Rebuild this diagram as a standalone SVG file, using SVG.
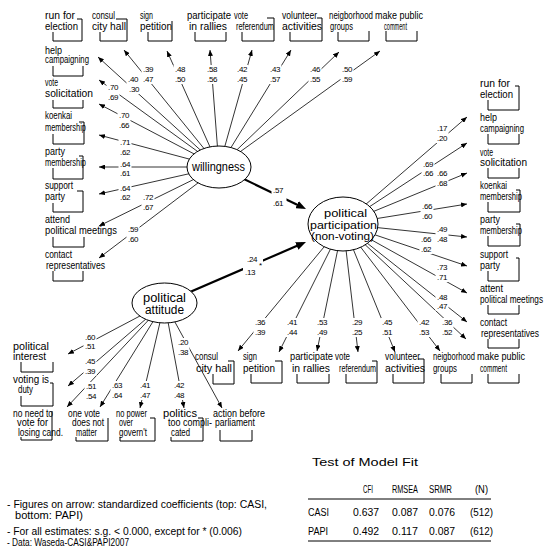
<svg xmlns="http://www.w3.org/2000/svg" width="544" height="549" viewBox="0 0 544 549">
<style>
text{font-family:"Liberation Sans",Arial,sans-serif;font-size:10px;fill:#000}
.c{font-size:8px;letter-spacing:-0.3px}
.lat{font-size:12px}
.lat2{font-size:11px}
.e line{stroke:#000;stroke-width:0.8;marker-end:url(#ah)}
.thick{stroke:#000;stroke-width:2.2;marker-end:url(#ahb)}
.bk{fill:none;stroke:#000;stroke-width:1}
.lb rect{fill:#fff}
ellipse{fill:#fff;stroke:#000;stroke-width:1}
.rule{stroke:#000;stroke-width:1}
</style>
<defs>
<marker id="ah" markerWidth="6" markerHeight="5" refX="6" refY="2.5" orient="auto" markerUnits="userSpaceOnUse"><path d="M0,0L6,2.5L0,5z"/></marker>
<marker id="ahb" markerWidth="10" markerHeight="8" refX="6" refY="4" orient="auto" markerUnits="userSpaceOnUse"><path d="M0,0L10,4L0,8z"/></marker>
</defs>
<rect width="544" height="549" fill="#fff"/>
<g id="connectors">
<g class="e">
<line x1="219" y1="167" x2="124" y2="50"/>
<line x1="219" y1="167" x2="167" y2="51"/>
<line x1="219" y1="167" x2="210" y2="50"/>
<line x1="219" y1="167" x2="252" y2="50"/>
<line x1="219" y1="167" x2="291" y2="50"/>
<line x1="219" y1="167" x2="339" y2="52"/>
<line x1="219" y1="167" x2="380" y2="51"/>
<line x1="219" y1="167" x2="98" y2="57"/>
<line x1="219" y1="167" x2="99" y2="80"/>
<line x1="219" y1="167" x2="99" y2="104"/>
<line x1="219" y1="167" x2="99" y2="135"/>
<line x1="219" y1="167" x2="99" y2="167"/>
<line x1="219" y1="167" x2="99" y2="194"/>
<line x1="219" y1="167" x2="99" y2="226"/>
<line x1="219" y1="167" x2="99" y2="258"/>
<line x1="343" y1="224" x2="467" y2="117"/>
<line x1="343" y1="224" x2="467" y2="143"/>
<line x1="343" y1="224" x2="467" y2="173"/>
<line x1="343" y1="224" x2="467" y2="204"/>
<line x1="343" y1="224" x2="467" y2="237"/>
<line x1="343" y1="224" x2="467" y2="266"/>
<line x1="343" y1="224" x2="467" y2="293"/>
<line x1="343" y1="224" x2="467" y2="322"/>
<line x1="343" y1="224" x2="466" y2="339"/>
<line x1="343" y1="224" x2="238" y2="351"/>
<line x1="343" y1="224" x2="279" y2="352"/>
<line x1="343" y1="224" x2="317" y2="351"/>
<line x1="343" y1="224" x2="358" y2="352"/>
<line x1="343" y1="224" x2="395" y2="352"/>
<line x1="343" y1="224" x2="440" y2="351"/>
<line x1="164.5" y1="303" x2="68" y2="354"/>
<line x1="164.5" y1="303" x2="68" y2="386"/>
<line x1="164.5" y1="303" x2="67" y2="407"/>
<line x1="164.5" y1="303" x2="100" y2="407"/>
<line x1="164.5" y1="303" x2="140" y2="408"/>
<line x1="164.5" y1="303" x2="184" y2="408"/>
<line x1="164.5" y1="303" x2="222" y2="408"/>
</g>
<line class="thick" x1="219" y1="167" x2="302.4" y2="207.3"/>
<line class="thick" x1="164.5" y1="303" x2="302.3" y2="243.6"/>
<g class="lb">
<rect x="141.5" y="65" width="13" height="19"/><text class="c" x="143" y="72">.39</text><text class="c" x="143" y="82">.47</text>
<rect x="173.5" y="65" width="13" height="19"/><text class="c" x="175" y="72">.48</text><text class="c" x="175" y="82">.50</text>
<rect x="205.5" y="65" width="13" height="19"/><text class="c" x="207" y="72">.58</text><text class="c" x="207" y="82">.56</text>
<rect x="235.5" y="65" width="13" height="19"/><text class="c" x="237" y="72">.42</text><text class="c" x="237" y="82">.45</text>
<rect x="268.5" y="65" width="13" height="19"/><text class="c" x="270" y="72">.43</text><text class="c" x="270" y="82">.57</text>
<rect x="308.5" y="65" width="13" height="19"/><text class="c" x="310" y="72">.46</text><text class="c" x="310" y="82">.55</text>
<rect x="340.5" y="65" width="13" height="19"/><text class="c" x="342" y="72">.50</text><text class="c" x="342" y="82">.59</text>
<rect x="126.5" y="75" width="13" height="19"/><text class="c" x="128" y="82">.40</text><text class="c" x="129" y="92">.30</text>
<rect x="106.5" y="83" width="13" height="19"/><text class="c" x="108" y="90">.70</text><text class="c" x="108" y="100">.69</text>
<rect x="117.5" y="111" width="13" height="19"/><text class="c" x="119" y="118">.70</text><text class="c" x="119" y="128">.66</text>
<rect x="118.5" y="138" width="13" height="19"/><text class="c" x="120" y="145">.71</text><text class="c" x="120" y="155">.62</text>
<rect x="118.5" y="160" width="13" height="18"/><text class="c" x="120" y="167">.64</text><text class="c" x="120" y="176">.61</text>
<rect x="118.5" y="184" width="13" height="18"/><text class="c" x="120" y="191">.64</text><text class="c" x="120" y="200">.62</text>
<rect x="141.5" y="193" width="13" height="19"/><text class="c" x="143" y="200">.72</text><text class="c" x="143" y="210">.67</text>
<rect x="126.5" y="225" width="13" height="19"/><text class="c" x="128" y="232">.59</text><text class="c" x="128" y="242">.60</text>
<rect x="435.5" y="124" width="13" height="19"/><text class="c" x="437" y="131">.17</text><text class="c" x="437" y="141">.20</text>
<rect x="421.5" y="160" width="13" height="18"/><text class="c" x="423" y="167">.69</text><text class="c" x="423" y="176">.66</text>
<rect x="435.5" y="169" width="13" height="19"/><text class="c" x="437" y="176">.66</text><text class="c" x="437" y="186">.68</text>
<rect x="420.5" y="202" width="13" height="19"/><text class="c" x="422" y="209">.66</text><text class="c" x="422" y="219">.60</text>
<rect x="435.5" y="225" width="13" height="19"/><text class="c" x="437" y="232">.49</text><text class="c" x="437" y="242">.48</text>
<rect x="419.5" y="235" width="13" height="19"/><text class="c" x="421" y="242">.66</text><text class="c" x="421" y="252">.62</text>
<rect x="435.5" y="263" width="13" height="19"/><text class="c" x="437" y="270">.73</text><text class="c" x="437" y="280">.71</text>
<rect x="435.5" y="293" width="13" height="18"/><text class="c" x="437" y="300">.48</text><text class="c" x="437" y="309">.47</text>
<rect x="440.5" y="318" width="13" height="19"/><text class="c" x="442" y="325">.36</text><text class="c" x="442" y="335">.52</text>
<rect x="253.5" y="318" width="13" height="19"/><text class="c" x="255" y="325">.36</text><text class="c" x="255" y="335">.39</text>
<rect x="285.5" y="318" width="13" height="19"/><text class="c" x="287" y="325">.41</text><text class="c" x="287" y="335">.44</text>
<rect x="315.5" y="318" width="13" height="19"/><text class="c" x="317" y="325">.53</text><text class="c" x="317" y="335">.49</text>
<rect x="350.5" y="318" width="13" height="19"/><text class="c" x="352" y="325">.29</text><text class="c" x="352" y="335">.25</text>
<rect x="380.5" y="318" width="13" height="19"/><text class="c" x="382" y="325">.45</text><text class="c" x="382" y="335">.51</text>
<rect x="417.5" y="318" width="13" height="19"/><text class="c" x="419" y="325">.42</text><text class="c" x="419" y="335">.53</text>
<rect x="83.5" y="333" width="13" height="18"/><text class="c" x="85" y="340">.60</text><text class="c" x="85" y="349">.51</text>
<rect x="83.5" y="357" width="13" height="19"/><text class="c" x="85" y="364">.45</text><text class="c" x="85" y="374">.39</text>
<rect x="84.5" y="382" width="13" height="19"/><text class="c" x="86" y="389">.51</text><text class="c" x="86" y="399">.54</text>
<rect x="110.5" y="381" width="13" height="19"/><text class="c" x="112" y="388">.63</text><text class="c" x="112" y="398">.64</text>
<rect x="138.5" y="381" width="13" height="19"/><text class="c" x="140" y="388">.41</text><text class="c" x="140" y="398">.47</text>
<rect x="172.5" y="381" width="13" height="19"/><text class="c" x="174" y="388">.42</text><text class="c" x="174" y="398">.48</text>
<rect x="176.5" y="338" width="13" height="19"/><text class="c" x="178" y="345">.20</text><text class="c" x="178" y="355">.38</text>
<rect x="271.5" y="185" width="15" height="22"/><text class="c" x="273" y="193">.57</text><text class="c" x="273" y="206">.61</text>
<rect x="243" y="255" width="20" height="22"/><text class="c" x="247" y="262">.24</text><text class="c" x="245" y="275">.13</text><text class="c" x="259" y="268">*</text>
</g>
</g>
<g id="n_top_run"><text x="45" y="19" textLength="30" lengthAdjust="spacingAndGlyphs">run for</text><text x="45" y="30" textLength="33" lengthAdjust="spacingAndGlyphs">election</text><path class="bk" d="M77,19H82V41H53V32"/></g>
<g id="n_top_consul"><text x="92" y="19" textLength="23" lengthAdjust="spacingAndGlyphs">consul</text><text x="92" y="30" textLength="34" lengthAdjust="spacingAndGlyphs">city hall</text><path class="bk" d="M116,19H127V41H100V32"/></g>
<g id="n_top_sign"><text x="140" y="19" textLength="13" lengthAdjust="spacingAndGlyphs">sign</text><text x="140" y="30" textLength="32" lengthAdjust="spacingAndGlyphs">petition</text><path class="bk" d="M172,21V41H148V32"/></g>
<g id="n_top_rallies"><text x="187" y="19" textLength="44" lengthAdjust="spacingAndGlyphs">participate</text><text x="189" y="30" textLength="38" lengthAdjust="spacingAndGlyphs">in rallies</text><path class="bk" d="M226,32V41H195V32"/></g>
<g id="n_top_vote"><text x="234" y="19" textLength="14" lengthAdjust="spacingAndGlyphs">vote</text><text x="236" y="30" textLength="38" lengthAdjust="spacingAndGlyphs">referendum</text><path class="bk" d="M267,18H274V41H242V32"/></g>
<g id="n_top_volunteer"><text x="282" y="19" textLength="35" lengthAdjust="spacingAndGlyphs">volunteer</text><text x="282" y="30" textLength="40" lengthAdjust="spacingAndGlyphs">activities</text><path class="bk" d="M317,18H322V41H290V32"/></g>
<g id="n_top_neigh"><text x="329" y="19" textLength="44" lengthAdjust="spacingAndGlyphs">neigborhood</text><text x="330" y="30" textLength="23" lengthAdjust="spacingAndGlyphs">groups</text><path class="bk" d="M369,31V41H338V32"/></g>
<g id="n_top_comment"><text x="375" y="19" textLength="48" lengthAdjust="spacingAndGlyphs">make public</text><text x="384" y="30" textLength="23" lengthAdjust="spacingAndGlyphs">comment</text><path class="bk" d="M417,31V41H386V31"/></g>
<g id="n_l_help"><text x="45" y="54" textLength="17" lengthAdjust="spacingAndGlyphs">help</text><text x="45" y="63" textLength="44" lengthAdjust="spacingAndGlyphs">campaigning</text><path class="bk" d="M83,66V76H53V66"/></g>
<g id="n_l_vote"><text x="45" y="86" textLength="13" lengthAdjust="spacingAndGlyphs">vote</text><text x="45" y="97" textLength="48" lengthAdjust="spacingAndGlyphs">solicitation</text><path class="bk" d="M83,100V108H53V100"/></g>
<g id="n_l_koenkai"><text x="45" y="119" textLength="27" lengthAdjust="spacingAndGlyphs">koenkai</text><text x="45" y="131" textLength="41" lengthAdjust="spacingAndGlyphs">membership</text><path class="bk" d="M79,122H84V144H53V134"/></g>
<g id="n_l_party"><text x="45" y="155" textLength="20" lengthAdjust="spacingAndGlyphs">party</text><text x="45" y="166" textLength="41" lengthAdjust="spacingAndGlyphs">membership</text><path class="bk" d="M79,156H83V179H53V168"/></g>
<g id="n_l_support"><text x="45" y="189" textLength="28" lengthAdjust="spacingAndGlyphs">support</text><text x="45" y="200" textLength="20" lengthAdjust="spacingAndGlyphs">party</text><path class="bk" d="M77,191H83V212H53V203"/></g>
<g id="n_l_attend"><text x="45" y="223" textLength="25" lengthAdjust="spacingAndGlyphs">attend</text><text x="45" y="234" textLength="72" lengthAdjust="spacingAndGlyphs">political meetings</text><path class="bk" d="M84,237V247H53V237"/></g>
<g id="n_l_contact"><text x="45" y="258" textLength="27" lengthAdjust="spacingAndGlyphs">contact</text><text x="46" y="269" textLength="59" lengthAdjust="spacingAndGlyphs">representatives</text><path class="bk" d="M83,271V281H53V271"/></g>
<g id="n_r_run"><text x="480" y="87" textLength="30" lengthAdjust="spacingAndGlyphs">run for</text><text x="480" y="98" textLength="33" lengthAdjust="spacingAndGlyphs">election</text><path class="bk" d="M515,86H519V110H488V100"/></g>
<g id="n_r_help"><text x="480" y="121" textLength="17" lengthAdjust="spacingAndGlyphs">help</text><text x="480" y="132" textLength="44" lengthAdjust="spacingAndGlyphs">campaigning</text><path class="bk" d="M519,134V144H488V134"/></g>
<g id="n_r_vote"><text x="480" y="156" textLength="13" lengthAdjust="spacingAndGlyphs">vote</text><text x="480" y="166" textLength="47" lengthAdjust="spacingAndGlyphs">solicitation</text><path class="bk" d="M519,168V178H488V168"/></g>
<g id="n_r_koenkai"><text x="480" y="189" textLength="27" lengthAdjust="spacingAndGlyphs">koenkai</text><text x="480" y="200" textLength="42" lengthAdjust="spacingAndGlyphs">membership</text><path class="bk" d="M516,190H520V212H488V202"/></g>
<g id="n_r_party"><text x="480" y="223" textLength="20" lengthAdjust="spacingAndGlyphs">party</text><text x="480" y="234" textLength="42" lengthAdjust="spacingAndGlyphs">membership</text><path class="bk" d="M516,224H520V246H488V236"/></g>
<g id="n_r_support"><text x="480" y="258" textLength="28" lengthAdjust="spacingAndGlyphs">support</text><text x="480" y="269" textLength="20" lengthAdjust="spacingAndGlyphs">party</text><path class="bk" d="M516,258H519V281H488V271"/></g>
<g id="n_r_attent"><text x="480" y="292" textLength="23" lengthAdjust="spacingAndGlyphs">attent</text><text x="480" y="303" font-size="9" textLength="63" lengthAdjust="spacingAndGlyphs">political meetings</text><path class="bk" d="M519,305V314H488V305"/></g>
<g id="n_r_contact"><text x="480" y="326" textLength="27" lengthAdjust="spacingAndGlyphs">contact</text><text x="481" y="337" font-size="9.5" textLength="58" lengthAdjust="spacingAndGlyphs">representatives</text><path class="bk" d="M519,339V348H488V339"/></g>
<g id="n_b_consul"><text x="195" y="360" textLength="23" lengthAdjust="spacingAndGlyphs">consul</text><text x="196" y="372" textLength="36" lengthAdjust="spacingAndGlyphs">city hall</text><path class="bk" d="M228,361H234V384H213V374"/></g>
<g id="n_b_sign"><text x="243" y="360" textLength="14" lengthAdjust="spacingAndGlyphs">sign</text><text x="243" y="372" textLength="32" lengthAdjust="spacingAndGlyphs">petition</text><path class="bk" d="M275,361H282V383H251V374"/></g>
<g id="n_b_rallies"><text x="290" y="360" textLength="43" lengthAdjust="spacingAndGlyphs">participate</text><text x="292" y="372" textLength="38" lengthAdjust="spacingAndGlyphs">in rallies</text><path class="bk" d="M329,374V383H297V374"/></g>
<g id="n_b_vote"><text x="335" y="360" textLength="15" lengthAdjust="spacingAndGlyphs">vote</text><text x="339" y="372" textLength="37" lengthAdjust="spacingAndGlyphs">referendum</text><path class="bk" d="M372,361H377V383H346V374"/></g>
<g id="n_b_volunteer"><text x="385" y="360" textLength="35" lengthAdjust="spacingAndGlyphs">volunteer</text><text x="385" y="372" textLength="40" lengthAdjust="spacingAndGlyphs">activities</text><path class="bk" d="M418,359H424V383H393V374"/></g>
<g id="n_b_neigh"><text x="433" y="360" textLength="42" lengthAdjust="spacingAndGlyphs">neigborhood</text><text x="433" y="372" textLength="24" lengthAdjust="spacingAndGlyphs">groups</text><path class="bk" d="M472,374V383H441V374"/></g>
<g id="n_b_comment"><text x="477" y="360" textLength="48" lengthAdjust="spacingAndGlyphs">make public</text><text x="480" y="372" textLength="27" lengthAdjust="spacingAndGlyphs">comment</text><path class="bk" d="M519,374V383H488V374"/></g>
<g id="n_a_interest"><text x="13" y="350" textLength="36" lengthAdjust="spacingAndGlyphs">political</text><text x="13" y="360" textLength="33" lengthAdjust="spacingAndGlyphs">interest</text><path class="bk" d="M21,362V372H53V362"/></g>
<g id="n_a_duty"><text x="13" y="383" textLength="36" lengthAdjust="spacingAndGlyphs">voting is</text><text x="18" y="393" textLength="15" lengthAdjust="spacingAndGlyphs">duty</text><path class="bk" d="M50,383H53V406H21V396"/></g>
<g id="n_a_noneed"><text x="13" y="417" textLength="40" lengthAdjust="spacingAndGlyphs">no need to</text><text x="17" y="426" textLength="31" lengthAdjust="spacingAndGlyphs">vote for</text><text x="18" y="436" textLength="45" lengthAdjust="spacingAndGlyphs">losing cand.</text><path class="bk" d="M52,411V440H21V437"/></g>
<g id="n_a_onevote"><text x="68" y="417" textLength="32" lengthAdjust="spacingAndGlyphs">one vote</text><text x="72" y="426" textLength="32" lengthAdjust="spacingAndGlyphs">does not</text><text x="76" y="436" textLength="21" lengthAdjust="spacingAndGlyphs">matter</text><path class="bk" d="M108,418V441H76V437"/></g>
<g id="n_a_nopower"><text x="116" y="417" textLength="31" lengthAdjust="spacingAndGlyphs">no power</text><text x="119" y="426" textLength="14" lengthAdjust="spacingAndGlyphs">over</text><text x="119" y="436" textLength="28" lengthAdjust="spacingAndGlyphs">govern't</text><path class="bk" d="M150,418H155V441H120V437"/></g>
<g id="n_a_politics"><text x="163" y="417" textLength="34" lengthAdjust="spacingAndGlyphs">politics</text><text x="168" y="426" textLength="44" lengthAdjust="spacingAndGlyphs">too compli-</text><text x="171" y="436" textLength="19" lengthAdjust="spacingAndGlyphs">cated</text><path class="bk" d="M198,418H203V441H171V437"/></g>
<g id="n_a_action"><text x="213" y="417" textLength="52" lengthAdjust="spacingAndGlyphs">action before</text><text x="215" y="426" textLength="40" lengthAdjust="spacingAndGlyphs">parliament</text><path class="bk" d="M220,430V441H252V430"/></g>
<g id="willingness"><ellipse cx="219" cy="167" rx="32" ry="21"/><text class="lat" x="192" y="171" textLength="53" lengthAdjust="spacingAndGlyphs">willingness</text></g>
<g id="participation"><ellipse cx="343" cy="224" rx="35" ry="27"/><text class="lat2" x="324" y="217" textLength="43" lengthAdjust="spacingAndGlyphs">political</text><text class="lat2" x="310" y="229" textLength="67" lengthAdjust="spacingAndGlyphs">participation</text><text class="lat2" x="311" y="240" textLength="63" lengthAdjust="spacingAndGlyphs">(non-voting)</text></g>
<g id="attitude"><ellipse cx="164.5" cy="303" rx="32.5" ry="20"/><text class="lat" x="143" y="302" textLength="43" lengthAdjust="spacingAndGlyphs">political</text><text class="lat" x="145" y="314" textLength="39" lengthAdjust="spacingAndGlyphs">attitude</text></g>
<g id="fit-table">
<text x="312" y="466" textLength="106" lengthAdjust="spacingAndGlyphs">Test of Model Fit</text>
<text x="363" y="493" textLength="10" lengthAdjust="spacingAndGlyphs">CFI</text>
<text x="392" y="493" textLength="26" lengthAdjust="spacingAndGlyphs">RMSEA</text>
<text x="429" y="493" textLength="23" lengthAdjust="spacingAndGlyphs">SRMR</text>
<text x="475" y="493" textLength="13" lengthAdjust="spacingAndGlyphs">(N)</text>
<line class="rule" x1="308" y1="499" x2="491" y2="499"/>
<text x="308" y="516" textLength="21" lengthAdjust="spacingAndGlyphs">CASI</text>
<text x="353" y="516" textLength="26" lengthAdjust="spacingAndGlyphs">0.637</text>
<text x="392" y="516" textLength="26" lengthAdjust="spacingAndGlyphs">0.087</text>
<text x="429" y="516" textLength="26" lengthAdjust="spacingAndGlyphs">0.076</text>
<text x="470" y="516" textLength="23" lengthAdjust="spacingAndGlyphs">(512)</text>
<text x="308" y="535" textLength="20" lengthAdjust="spacingAndGlyphs">PAPI</text>
<text x="353" y="535" textLength="26" lengthAdjust="spacingAndGlyphs">0.492</text>
<text x="392" y="535" textLength="26" lengthAdjust="spacingAndGlyphs">0.117</text>
<text x="429" y="535" textLength="26" lengthAdjust="spacingAndGlyphs">0.087</text>
<text x="470" y="535" textLength="23" lengthAdjust="spacingAndGlyphs">(612)</text>
<line class="rule" x1="308" y1="541" x2="491" y2="541"/>
</g>
<g id="notes">
<text x="7" y="508" textLength="260" lengthAdjust="spacingAndGlyphs">- Figures on arrow: standardized coefficients (top: CASI,</text>
<text x="15" y="519" textLength="68" lengthAdjust="spacingAndGlyphs">bottom: PAPI)</text>
<text x="7" y="535" textLength="235" lengthAdjust="spacingAndGlyphs">- For all estimates: s.g. &lt; 0.000, except for * (0.006)</text>
<text x="7" y="546" textLength="122" lengthAdjust="spacingAndGlyphs">- Data: Waseda-CASI&amp;PAPI2007</text>
</g>
</svg>
